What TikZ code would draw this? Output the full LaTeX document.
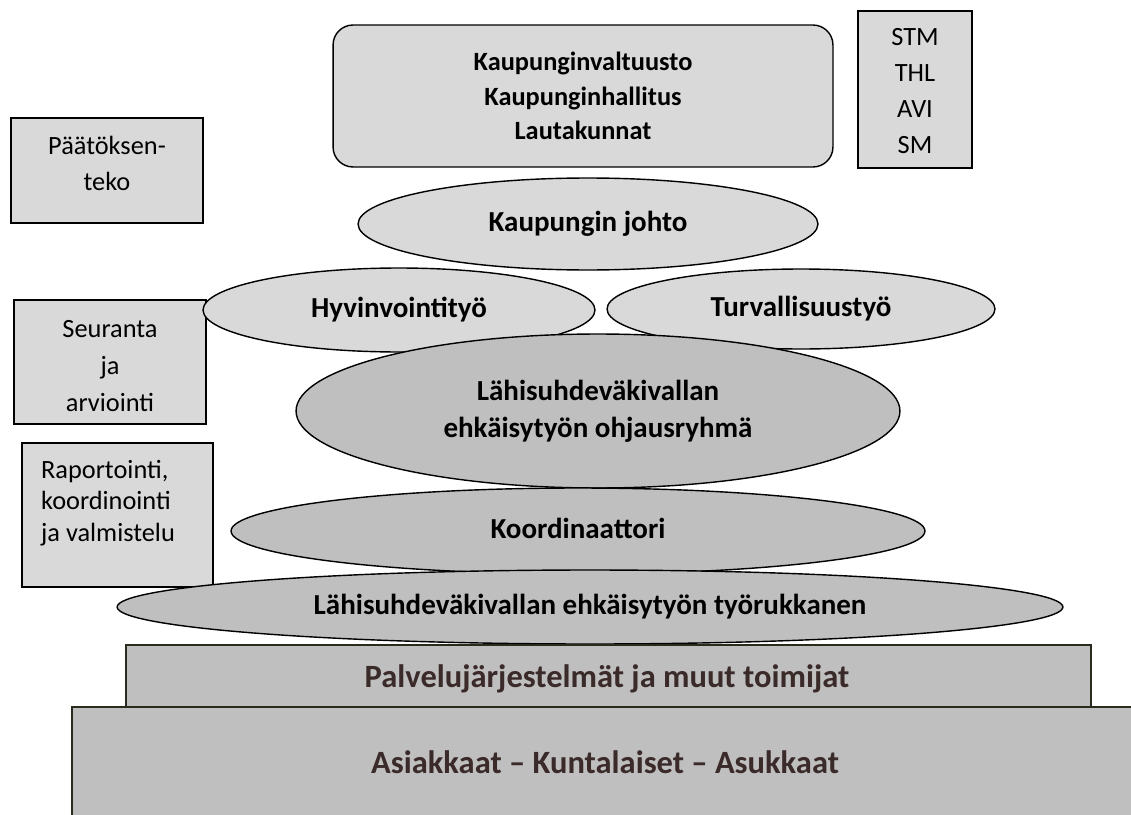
\documentclass[tikz,border=0pt]{standalone}
\usepackage{fontspec}
\setmainfont{Carlito}
\usetikzlibrary{shapes.geometric}
\definecolor{lightfill}{HTML}{D9D9D9}
\definecolor{darkfill}{HTML}{BFBFBF}
\definecolor{basetext}{HTML}{3B2A2A}
\definecolor{baseline}{HTML}{2B2A1E}

\begin{document}
\begin{tikzpicture}[x=0.02cm,y=-0.02cm,
  sidebox/.style={draw,line width=0.8pt,fill=lightfill,inner sep=0pt},
  sidetext/.style={align=center,inner sep=0pt,font=\fontsize{15}{20.5}\selectfont},
  lightell/.style={ellipse,draw,line width=0.8pt,fill=lightfill,align=center,inner sep=0pt,
    font=\fontsize{16.5}{21}\selectfont\bfseries},
  oneline/.style={text height=12pt,text depth=4pt},
  darkell/.style={lightell,fill=darkfill},
  basebox/.style={draw=baseline,line width=0.8pt,fill=darkfill,text=basetext,inner sep=0pt,
    font=\fontsize{18.5}{22}\selectfont\bfseries}]

\useasboundingbox (0,0) rectangle (1131,814);
\clip (0,0) rectangle (1131,814);

%-------------------Top boxes--------------------%
\node[sidebox,rounded corners=0.4cm,minimum width=10cm,minimum height=2.84cm,align=center,
  font=\fontsize{15}{19.8}\selectfont\bfseries] (valtuusto) at (583,96)
  {Kaupunginvaltuusto\\Kaupunginhallitus\\Lautakunnat};
\node[sidebox,minimum width=2.28cm,minimum height=3.14cm] (ministeriot) at (915,89.5) {};
\node[sidetext] (ministeriot-t) at (915,91) {STM\\THL\\AVI\\SM};
%----------------------------------------------------%

%-------------------Left boxes--------------------%
\node[sidebox,minimum width=3.84cm,minimum height=2.1cm] (paatos) at (107,170.5) {};
\node[sidetext] (paatos-t) at (107,163) {Päätöksen-\\teko};

\node[sidebox,minimum width=3.84cm,minimum height=2.48cm] (seuranta) at (110,362) {};
\node[sidetext,font=\fontsize{15}{21}\selectfont] (seuranta-t) at (110,366) {Seuranta\\ja\\arviointi};

\node[sidebox,minimum width=3.82cm,minimum height=2.88cm] (raportointi) at (117.5,515) {};
\node[sidetext,align=left,font=\fontsize{15}{18}\selectfont] (raportointi-t) at (108,503)
  {Raportointi,\\koordinointi\\ja valmistelu};
%----------------------------------------------------%

%-------------------Ellipses--------------------%
\node[lightell,oneline,minimum width=9.2cm,minimum height=1.84cm] (johto) at (588,224) {Kaupungin johto};
\node[lightell,oneline,minimum width=7.84cm,minimum height=1.68cm] (hyvinvointi) at (399,310) {Hyvinvointityö};
\node[lightell,oneline,minimum width=7.76cm,minimum height=1.6cm] (turvallisuus) at (801,309) {Turvallisuustyö};
\node[darkell,minimum width=12.08cm,minimum height=3.08cm] (ohjausryhma) at (598,411)
  {Lähisuhdeväkivallan\\ehkäisytyön ohjausryhmä};
\node[darkell,oneline,minimum width=13.88cm,minimum height=1.72cm] (koordinaattori) at (578,531) {Koordinaattori};
\node[darkell,oneline,minimum width=18.92cm,minimum height=1.48cm] (tyorukkanen) at (590,607)
  {Lähisuhdeväkivallan ehkäisytyön työrukkanen};
%----------------------------------------------------%

%-------------------Base--------------------%
\node[basebox,minimum width=19.3cm,minimum height=1.24cm] (palvelut) at (608.5,676) {};
\node[text=basetext,font=\fontsize{18.5}{22}\selectfont\bfseries] (palvelut-t) at (607,679)
  {Palvelujärjestelmät ja muut toimijat};
\node[basebox,minimum width=21.36cm,minimum height=2.2cm] (asiakkaat) at (606,762) {};
\node[text=basetext,font=\fontsize{18.5}{22}\selectfont\bfseries] (asiakkaat-t) at (605,762)
  {Asiakkaat – Kuntalaiset – Asukkaat};
%----------------------------------------------------%
\end{tikzpicture}
\end{document}
